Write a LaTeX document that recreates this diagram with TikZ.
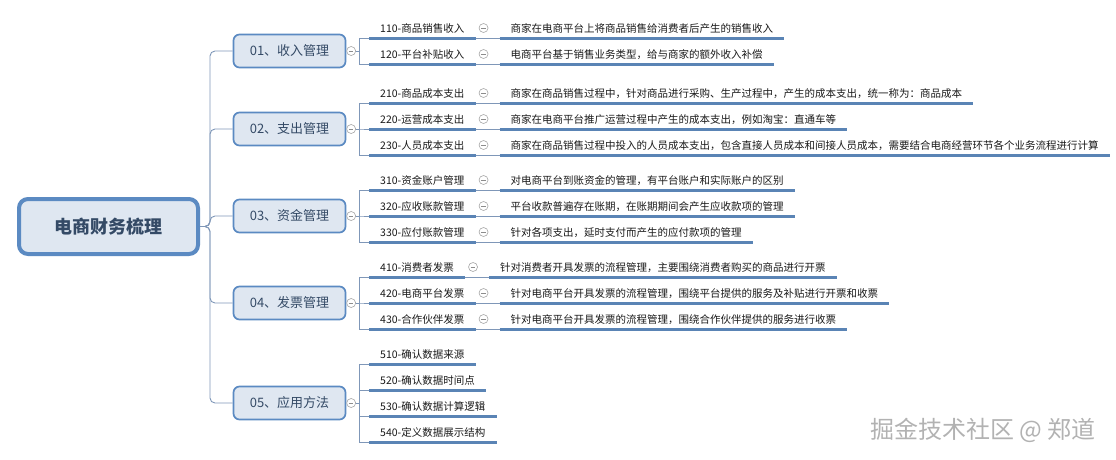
\documentclass[tikz,border=0pt]{standalone}
\usepackage{fontspec}
\setmainfont{Noto Sans CJK SC}
\usetikzlibrary{positioning}
\definecolor{boxfill}{HTML}{DFE7F1}
\definecolor{boxline}{HTML}{5B8AC2}
\definecolor{boxtext}{HTML}{344A66}
\definecolor{ulcolor}{HTML}{5A84B5}
\definecolor{wire}{HTML}{7F97B8}

\begin{document}
\begin{tikzpicture}[
  x=1pt, y=1pt,
  root/.style={
    draw=boxline,
    line width=4pt,
    rounded corners=9pt,
    fill=boxfill,
    minimum width=179pt,
    minimum height=55pt,
    text=boxtext,
    font=\fontsize{18}{20}\selectfont\bfseries
  },
  topic/.style={
    draw=boxline,
    line width=1.7pt,
    rounded corners=6pt,
    fill=boxfill,
    minimum width=112pt,
    minimum height=33pt,
    text=boxtext,
    font=\fontsize{13}{15}\selectfont
  },
  underline/.style={draw=ulcolor, line width=3pt},
  item/.style={
    anchor=south west,
    inner xsep=11pt,
    inner ysep=4.5pt,
    text=black!90,
    font=\fontsize{10.5}{12}\selectfont,
    append after command={(\tikzlastnode.south west) edge[underline] (\tikzlastnode.south east)}
  },
  note/.style={item},
  fold/.style={
    circle,
    draw=black!35,
    fill=white,
    line width=0.6pt,
    minimum size=9pt,
    inner sep=0pt,
    path picture={\draw[black!45, line width=0.6pt] ([xshift=2.2pt]path picture bounding box.west) -- ([xshift=-2.2pt]path picture bounding box.east);}
  },
  branch/.style={draw=wire, line width=0.9pt, rounded corners=5pt},
  link/.style={draw=wire, line width=0.8pt}
]
  \useasboundingbox (0,0) rectangle (1116,-459);

  \node[root] (root) at (108.5,-226.5) {电商财务梳理};

  \node[topic] (t1) at (289.5,-51) {01、收入管理};
  \node[topic] (t2) at (289.5,-129) {02、支出管理};
  \node[topic] (t3) at (289.5,-216) {03、资金管理};
  \node[topic] (t4) at (289.5,-303) {04、发票管理};
  \node[topic] (t5) at (289.5,-403) {05、应用方法};

  \draw[branch] (root.east) -- ++(10,0) |- (t1.west);
  \draw[branch] (root.east) -- ++(10,0) |- (t2.west);
  \draw[branch] (root.east) -- ++(10,0) |- (t3.west);
  \draw[branch] (root.east) -- ++(10,0) |- (t4.west);
  \draw[branch] (root.east) -- ++(10,0) |- (t5.west);

  \node[fold, right=0pt of t1] (f1) {};
  \node[fold, right=0pt of t2] (f2) {};
  \node[fold, right=0pt of t3] (f3) {};
  \node[fold, right=0pt of t4] (f4) {};
  \node[fold, right=0pt of t5] (f5) {};

  \node[item] (i11) at (369,-38) {110-商品销售收入};
  \node[item] (i12) at (369,-64) {120-平台补贴收入};
  \node[item] (i21) at (369,-103) {210-商品成本支出};
  \node[item] (i22) at (369,-129) {220-运营成本支出};
  \node[item] (i23) at (369,-155) {230-人员成本支出};
  \node[item] (i31) at (369,-190) {310-资金账户管理};
  \node[item] (i32) at (369,-216) {320-应收账款管理};
  \node[item] (i33) at (369,-242) {330-应付账款管理};
  \node[item] (i41) at (369,-277) {410-消费者发票};
  \node[item] (i42) at (369,-303) {420-电商平台发票};
  \node[item] (i43) at (369,-329) {430-合作伙伴发票};
  \node[item] (i51) at (369,-364) {510-确认数据来源};
  \node[item] (i52) at (369,-390) {520-确认数据时间点};
  \node[item] (i53) at (369,-416) {530-确认数据计算逻辑};
  \node[item] (i54) at (369,-442) {540-定义数据展示结构};

  \draw[link] (f1.east) -- ++(3.5,0) |- (i11.south west);
  \draw[link] (f1.east) -- ++(3.5,0) |- (i12.south west);
  \draw[link] (f2.east) -- ++(3.5,0) |- (i21.south west);
  \draw[link] (f2.east) -- ++(3.5,0) |- (i22.south west);
  \draw[link] (f2.east) -- ++(3.5,0) |- (i23.south west);
  \draw[link] (f3.east) -- ++(3.5,0) |- (i31.south west);
  \draw[link] (f3.east) -- ++(3.5,0) |- (i32.south west);
  \draw[link] (f3.east) -- ++(3.5,0) |- (i33.south west);
  \draw[link] (f4.east) -- ++(3.5,0) |- (i41.south west);
  \draw[link] (f4.east) -- ++(3.5,0) |- (i42.south west);
  \draw[link] (f4.east) -- ++(3.5,0) |- (i43.south west);
  \draw[link] (f5.east) -- ++(3.5,0) |- (i51.south west);
  \draw[link] (f5.east) -- ++(3.5,0) |- (i52.south west);
  \draw[link] (f5.east) -- ++(3.5,0) |- (i53.south west);
  \draw[link] (f5.east) -- ++(3.5,0) |- (i54.south west);

  \node[note] (n11) at ([xshift=24pt]i11.south east) {商家在电商平台上将商品销售给消费者后产生的销售收入};
  \node[note] (n12) at ([xshift=24pt]i12.south east) {电商平台基于销售业务类型，给与商家的额外收入补偿};
  \node[note] (n21) at ([xshift=24pt]i21.south east) {商家在商品销售过程中，针对商品进行采购、生产过程中，产生的成本支出，统一称为：商品成本};
  \node[note] (n22) at ([xshift=24pt]i22.south east) {商家在电商平台推广运营过程中产生的成本支出，例如淘宝：直通车等};
  \node[note] (n23) at ([xshift=24pt]i23.south east) {商家在商品销售过程中投入的人员成本支出，包含直接人员成本和间接人员成本，需要结合电商经营环节各个业务流程进行计算};
  \node[note] (n31) at ([xshift=24pt]i31.south east) {对电商平台到账资金的管理，有平台账户和实际账户的区别};
  \node[note] (n32) at ([xshift=24pt]i32.south east) {平台收款普遍存在账期，在账期期间会产生应收款项的管理};
  \node[note] (n33) at ([xshift=24pt]i33.south east) {针对各项支出，延时支付而产生的应付款项的管理};
  \node[note] (n41) at ([xshift=24pt]i41.south east) {针对消费者开具发票的流程管理，主要围绕消费者购买的商品进行开票};
  \node[note] (n42) at ([xshift=24pt]i42.south east) {针对电商平台开具发票的流程管理，围绕平台提供的服务及补贴进行开票和收票};
  \node[note] (n43) at ([xshift=24pt]i43.south east) {针对电商平台开具发票的流程管理，围绕合作伙伴提供的服务进行收票};

  \draw[link] (i11.south east) -- (n11.south west);
  \draw[link] (i12.south east) -- (n12.south west);
  \draw[link] (i21.south east) -- (n21.south west);
  \draw[link] (i22.south east) -- (n22.south west);
  \draw[link] (i23.south east) -- (n23.south west);
  \draw[link] (i31.south east) -- (n31.south west);
  \draw[link] (i32.south east) -- (n32.south west);
  \draw[link] (i33.south east) -- (n33.south west);
  \draw[link] (i41.south east) -- (n41.south west);
  \draw[link] (i42.south east) -- (n42.south west);
  \draw[link] (i43.south east) -- (n43.south west);

  \node[fold] (g11) at ([shift={(8,10)}]i11.south east) {};
  \node[fold] (g12) at ([shift={(8,10)}]i12.south east) {};
  \node[fold] (g21) at ([shift={(8,10)}]i21.south east) {};
  \node[fold] (g22) at ([shift={(8,10)}]i22.south east) {};
  \node[fold] (g23) at ([shift={(8,10)}]i23.south east) {};
  \node[fold] (g31) at ([shift={(8,10)}]i31.south east) {};
  \node[fold] (g32) at ([shift={(8,10)}]i32.south east) {};
  \node[fold] (g33) at ([shift={(8,10)}]i33.south east) {};
  \node[fold] (g41) at ([shift={(8,10)}]i41.south east) {};
  \node[fold] (g42) at ([shift={(8,10)}]i42.south east) {};
  \node[fold] (g43) at ([shift={(8,10)}]i43.south east) {};

  \node[text=black!30, font=\fontsize{24}{26}\selectfont] (wm) at (983,-430) {掘金技术社区 @ 郑道};
\end{tikzpicture}
\end{document}
